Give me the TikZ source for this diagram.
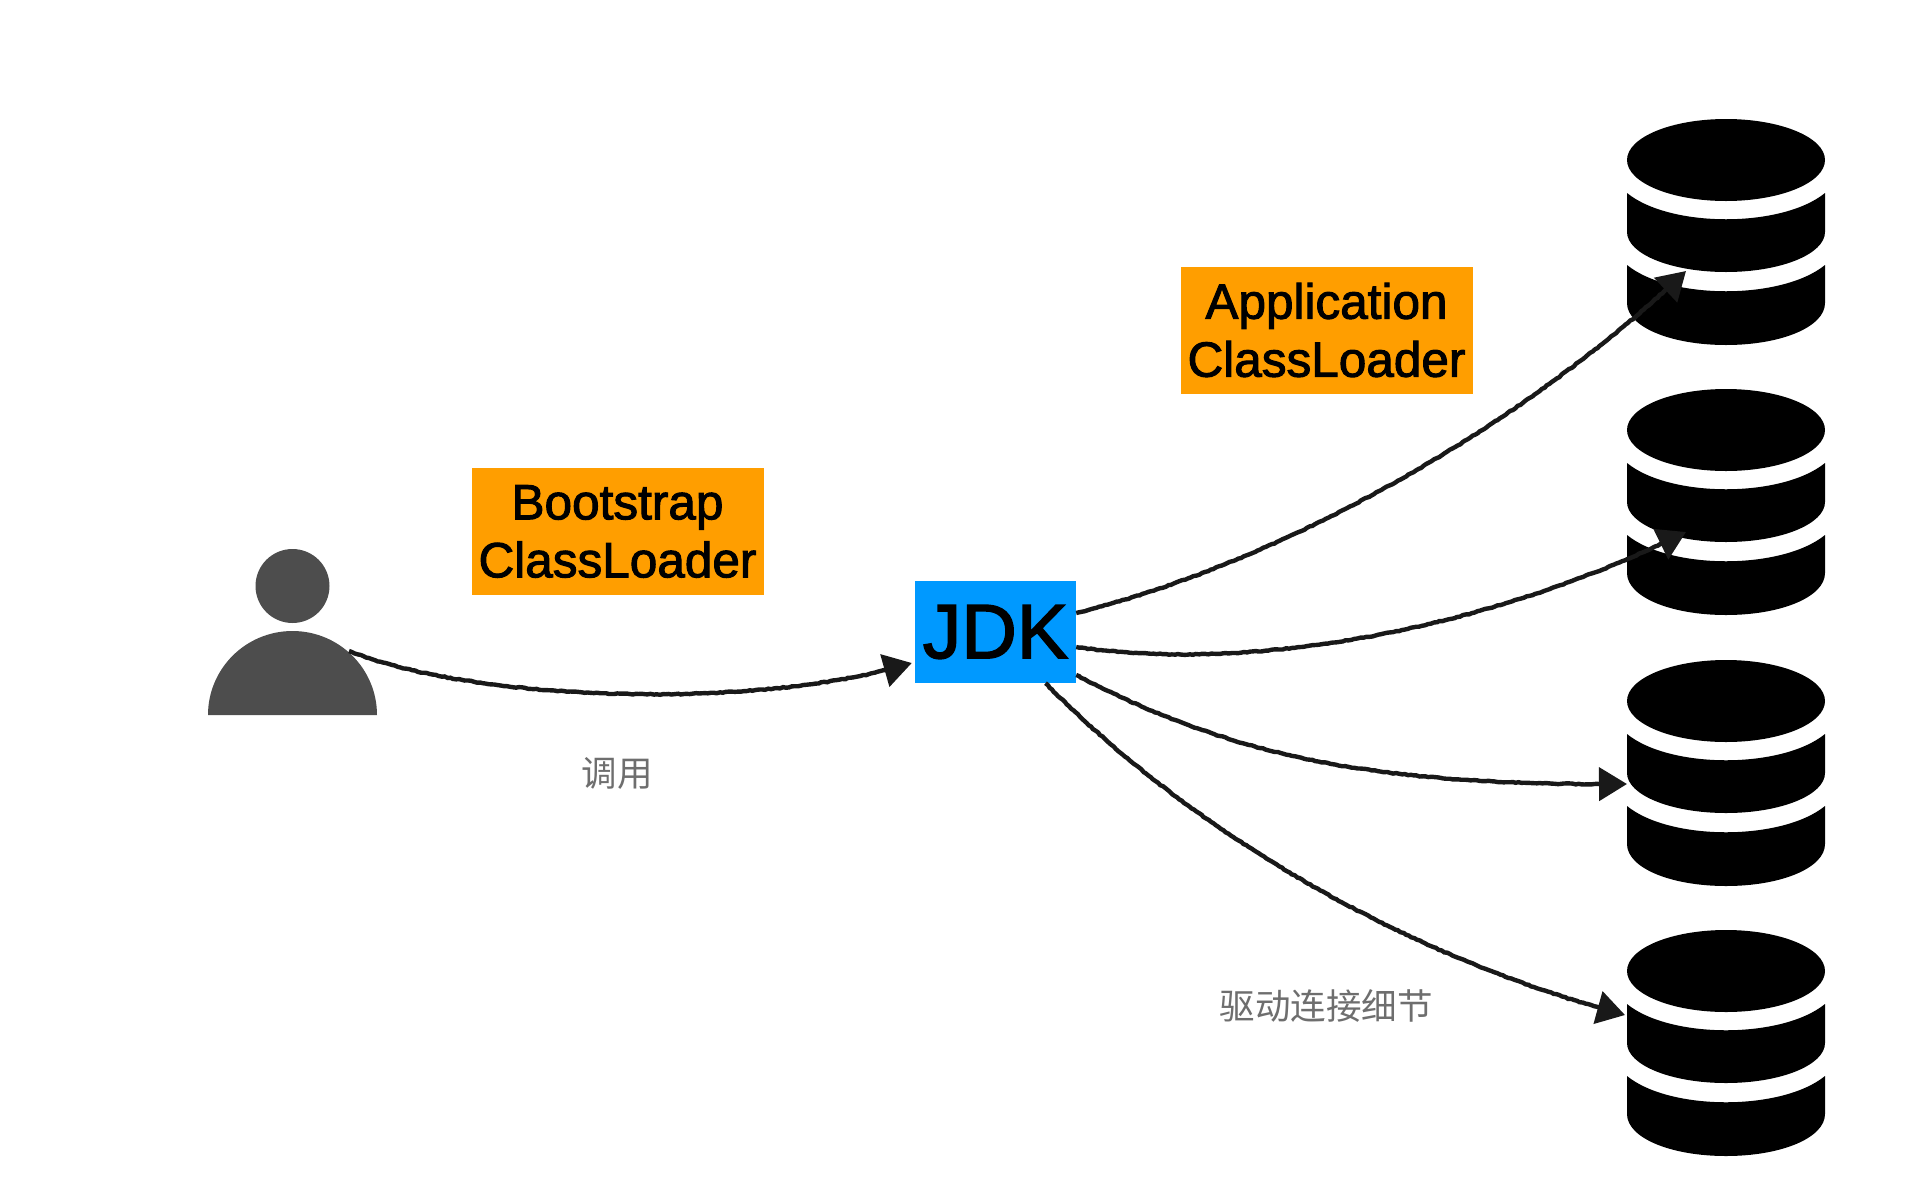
\documentclass[tikz,border=0pt]{standalone}
\usepackage{fontspec}
\setmainfont{Liberation Sans}
\newfontfamily\medfont[FakeBold=2]{Liberation Sans}
\newfontfamily\cjkfont{Noto Sans CJK SC}
\usetikzlibrary{arrows.meta,decorations.pathmorphing}
\definecolor{boxorange}{HTML}{FF9E00}
\definecolor{boxblue}{HTML}{0099FF}
\definecolor{persongray}{HTML}{4D4D4D}
\definecolor{notegray}{HTML}{6E6E6E}
\tikzset{
  loaderbox/.style={fill=boxorange,minimum width=292pt,minimum height=127pt,inner sep=0pt,align=center,font=\medfont\fontsize{49.5}{58}\selectfont},
  jdkbox/.style={fill=boxblue,minimum width=161pt,minimum height=102pt,inner sep=0pt,font=\medfont\fontsize{77}{80}\selectfont},
  note/.style={text=notegray,inner sep=0pt,font=\cjkfont\fontsize{35.5}{40}\selectfont},
  dbanchor/.style={minimum width=200pt,minimum height=226pt,inner sep=0pt},
  sketch/.style={line width=4.4pt,color=black!90,
    decoration={random steps,segment length=3pt,amplitude=0.5pt,post length=22pt},decorate,
    -{Triangle[length=28pt,width=33pt,color=black!90]}},
  persona/.style={fill=persongray,draw=none}
}
\pgfmathsetseed{7}
\newcommand{\dbstack}[2]{%
  \node[dbanchor] (#1) at (1726,#2) {};
  \fill[black] (1726,#2-72) ellipse [x radius=99,y radius=41];
  \fill[black] (1627,#2-39) .. controls (1670,#2-4) and (1782,#2-4) .. (1825,#2-39)
     -- (1825,#2) .. controls (1825,#2+22) and (1781,#2+40) .. (1726,#2+40)
     .. controls (1671,#2+40) and (1627,#2+22) .. (1627,#2) -- cycle;
  \fill[black] (1627,#2+33) .. controls (1670,#2+68) and (1782,#2+68) .. (1825,#2+33)
     -- (1825,#2+71) .. controls (1825,#2+95) and (1781,#2+113) .. (1726,#2+113)
     .. controls (1671,#2+113) and (1627,#2+95) .. (1627,#2+71) -- cycle;
}
\begin{document}
\begin{tikzpicture}[x=1pt,y=-1pt]
\useasboundingbox (0,0) rectangle (1930,1184);
% person
\node[persona,circle,minimum size=74pt,inner sep=0pt] (head) at (292.5,586) {};
\fill[persongray] (208,715) arc[start angle=180,end angle=360,x radius=84.5,y radius=84] -- cycle;
\coordinate (shoulder) at (349,651);
% boxes
\node[loaderbox] (boot) at (617.5,531.5) {Bootstrap\\ClassLoader};
\node[loaderbox] (app) at (1326.5,330) {Application\\ClassLoader};
\node[jdkbox] (jdk) at (995.5,632) {JDK};
% databases
\dbstack{dba}{232}
\dbstack{dbb}{502}
\dbstack{dbc}{773}
\dbstack{dbd}{1043}
% labels
\node[note] (call) at (617,773) {调用};
\node[note] (detail) at (1326,1006) {驱动连接细节};
% connectors
\draw[sketch] (shoulder) .. controls (470,700) and (750,712) .. ([xshift=-3pt,yshift=-31pt]jdk.west);
\draw[sketch] ([yshift=19pt]jdk.east) .. controls (1290,560) and (1530,420) .. ([xshift=-40pt,yshift=-39pt]dba.center);
\draw[sketch] ([yshift=-15pt]jdk.east) .. controls (1270,675) and (1510,620) .. ([xshift=-40pt,yshift=-30pt]dbb.center);
\draw[sketch] ([yshift=-43pt]jdk.east) .. controls (1230,755) and (1370,786) .. ([xshift=-99pt,yshift=-11pt]dbc.center);
\draw[sketch] ([xshift=50pt]jdk.south) .. controls (1190,830) and (1400,955) .. ([xshift=-101pt,yshift=28pt]dbd.center);
\end{tikzpicture}
\end{document}
